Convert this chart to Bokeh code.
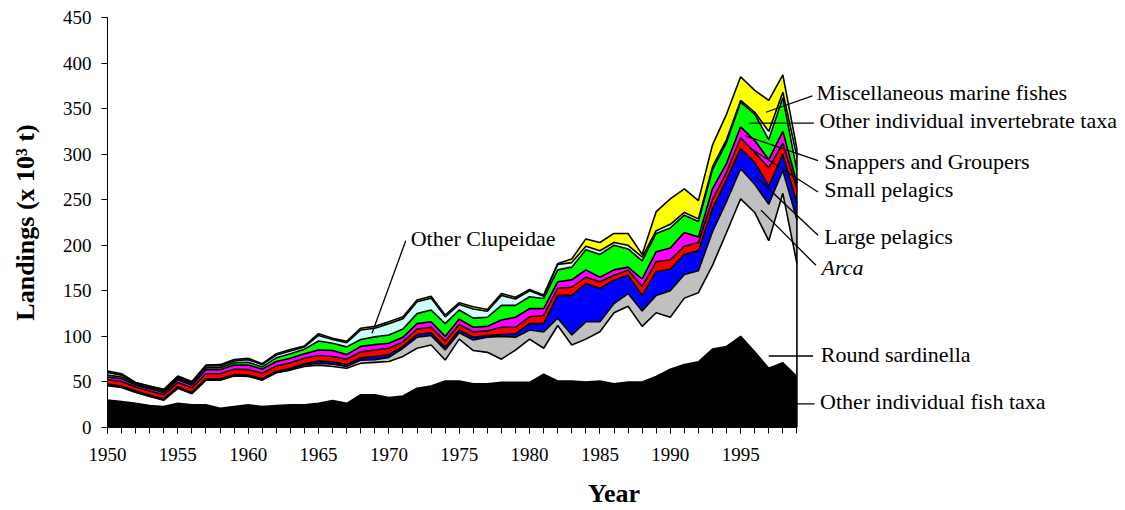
import numpy as np
from bokeh.plotting import figure
from bokeh.models import Range1d, FixedTicker
from bokeh.core.properties import value
from bokeh.embed import file_html
from bokeh.resources import INLINE

# Annual landings by group, thousand tonnes (x 10^3 t), 1950-1999
years = list(range(1950, 2000))

other_fish_taxa = [30, 28.5, 26.5, 24, 23, 26.5, 25, 25, 21, 23,
                   25, 23, 24, 25, 25, 26.5, 29.5, 26.5, 36, 36,
                   33, 34.5, 43, 45.5, 51, 51, 48, 48, 49.5, 49.5,
                   49.5, 58.5, 51, 51, 50, 51, 48, 50, 50, 56,
                   64, 69, 72, 86, 89, 100, 83, 65, 71, 56]
round_sardinella = [16, 15.5, 12, 10, 7, 16.5, 12, 27, 31, 33.5,
                    31, 29, 36, 38, 42, 42, 37.5, 38.5, 34.5, 35.5,
                    39.5, 43.5, 44, 45, 23, 46, 36.5, 34.5, 25.5, 35.5,
                    47.5, 28.5, 61, 39.5, 47, 54, 78, 83, 61, 70,
                    57, 73, 76, 92, 125, 151, 153, 140, 186, 124]
arca = [0.5, 0.5, 0.5, 0.5, 0.5, 0.5, 0.5, 0.5, 0.5, 0.5,
        0.5, 0.5, 0.5, 1, 1.5, 2, 2.5, 2, 3.5, 3,
        4.5, 9, 12, 10.5, 11, 7, 11.5, 16.5, 25, 14,
        10, 18, 8, 11, 19, 11, 10, 14, 17, 19,
        29, 26, 24, 37, 34, 33, 31, 40, 25, 48]
large_pelagics = [1, 1, 1, 1, 1, 1, 1, 1, 1, 1,
                  1, 1, 1, 1, 1.5, 2.5, 2.5, 2, 2.5, 3.5,
                  3, 2, 3, 3, 3, 3, 3, 2, 2, 4,
                  7, 9, 25, 43.5, 42, 36.5, 26, 20, 17, 26,
                  24, 22, 22, 25, 24, 22, 24, 20, 18, 18]
small_pelagics = [5, 5, 4.5, 4.5, 4.5, 5, 5, 5.5, 5.5, 6,
                  6, 6, 6, 6, 6, 6, 6, 6, 6.5, 7,
                  7, 5, 6, 6, 7, 6, 6, 5, 8, 7,
                  7.5, 9, 8, 9, 7, 7.5, 5, 5.5, 10, 11,
                  10, 9, 9, 10, 8, 12, 11, 20, 12, 16]
snappers_groupers = [3, 3, 2, 2.5, 2.5, 3, 3, 4.5, 4.5, 4.5,
                     5, 4.5, 5, 5, 5, 6, 6.5, 5, 6, 6,
                     5.5, 5, 6, 6, 5, 6, 5, 5, 8, 11,
                     9, 7.5, 7, 8, 8, 5, 6, 3.5, 8, 11,
                     13, 15, 6, 12, 10, 12, 13, 9, 13, 6]
other_invertebrates = [2, 2, 1.5, 1.5, 1.5, 1.5, 1.5, 2, 2, 2.5,
                       3, 2.5, 4, 5, 5, 10, 8, 8.5, 7.5, 8.5,
                       9, 9, 11, 13, 14, 10, 10, 10, 16, 13,
                       13, 11, 13, 14, 22, 25, 27, 20, 20, 20,
                       22, 19, 17, 21, 23, 27, 29, 22, 37, 14]
other_clupeidae = [3, 2, 1, 1, 1, 1.5, 1.5, 2, 2, 2,
                   3, 2.5, 3, 3, 2.5, 6, 4, 4.5, 10.5, 9.5,
                   12.5, 11.5, 13, 13, 7.5, 6, 10, 6.5, 11, 7,
                   6.5, 2.5, 6, 5, 4, 4, 3, 4, 4, 3,
                   4, 3, 3, 3, 3, 2, 2, 9, 6, 15]
misc_marine_fishes = [1.5, 1.5, 0.5, 0.5, 1, 1, 1, 1, 1.5, 1.5,
                      1.5, 1, 1.5, 1.5, 1, 2, 1.5, 1.5, 2, 2,
                      2, 2, 2, 2, 2, 2, 2.5, 2, 2, 2,
                      1.5, 1.5, 1, 4, 8, 9, 10, 13, 3, 21,
                      28, 26, 20, 24, 28, 26, 24, 34, 19, 9]

# Stack order, bottom to top
layers = [
    ("Other individual fish taxa", other_fish_taxa, "#000000"),
    ("Round sardinella", round_sardinella, "#ffffff"),
    ("Arca", arca, "#c0c0c0"),
    ("Large pelagics", large_pelagics, "#0000ff"),
    ("Small pelagics", small_pelagics, "#ff0000"),
    ("Snappers and Groupers", snappers_groupers, "#ff00ff"),
    ("Other individual invertebrate taxa", other_invertebrates, "#00ff00"),
    ("Other Clupeidae", other_clupeidae, "#ccffff"),
    ("Miscellaneous marine fishes", misc_marine_fishes, "#ffff00"),
]

FONT = "Liberation Serif"

p = figure(width=1125, height=510, output_backend="svg", toolbar_location=None,
           x_range=Range1d(1950, 2022), y_range=Range1d(0, 450),
           min_border_left=107, min_border_right=5,
           min_border_top=17, min_border_bottom=82)
p.background_fill_color = "white"
p.border_fill_color = "white"
p.outline_line_color = None
p.grid.visible = False

x = np.array(years, dtype=float)
bottom = np.zeros(len(years))
tops = []
for name, vals, color in layers:
    top = bottom + np.array(vals, dtype=float)
    p.varea(x=x, y1=bottom, y2=top, fill_color=color)
    tops.append(top)
    bottom = top

# black borders of the stacked areas
for top in tops:
    p.line(x, top, line_color="black", line_width=1.6)
p.segment(x0=[x[-1]], y0=[0], x1=[x[-1]], y1=[tops[-1][-1]],
          line_color="black", line_width=1.6)

# axes
xa = p.xaxis[0]
xa.bounds = (1950, 1999)
xa.ticker = FixedTicker(ticks=list(range(1950, 1996, 5)), minor_ticks=years)
xa.major_tick_in = 0
xa.major_tick_out = 6
xa.minor_tick_in = 0
xa.minor_tick_out = 6
xa.minor_tick_line_color = "black"
xa.axis_label = "Year"

ya = p.yaxis[0]
ya.ticker = FixedTicker(ticks=list(range(0, 451, 50)))
ya.major_tick_in = 0
ya.major_tick_out = 6
ya.minor_tick_line_color = None
ya.axis_label = "Landings (x 10\u00b3 t)"

for ax in (xa, ya):
    ax.axis_line_color = "black"
    ax.major_tick_line_color = "black"
    ax.major_label_text_font = FONT
    ax.major_label_text_font_size = "19px"
    ax.major_label_text_color = "black"
    ax.axis_label_text_font = FONT
    ax.axis_label_text_font_size = "26px"
    ax.axis_label_text_font_style = "bold"
    ax.axis_label_text_color = "black"
xa.major_label_standoff = 14
xa.axis_label_standoff = 15
ya.major_label_standoff = 10
ya.axis_label_standoff = 20

# series labels with leader lines (year, landings)
labels = [
    ("Other Clupeidae", 1971.55, 207, (1971.2, 205), (1968.8, 103.5), "normal"),
    ("Miscellaneous marine fishes", 2000.4, 367.5, (2000.1, 364), (1996.8, 346), "normal"),
    ("Other individual invertebrate taxa", 2000.6, 336.5, (2000.2, 334), (1995.6, 334), "normal"),
    ("Snappers and Groupers", 2000.95, 292, (2000.5, 293), (1995.25, 320.5), "normal"),
    ("Small pelagics", 2000.95, 261, (2000.5, 258.5), (1995.6, 307.5), "normal"),
    ("Large pelagics", 2000.95, 209.5, (2000.5, 211), (1996.1, 275), "normal"),
    ("Arca", 2000.75, 176, (2000.35, 178), (1996.45, 238.5), "italic"),
    ("Round sardinella", 2000.7, 80, (2000.15, 78.5), (1997.0, 78.5), "normal"),
    ("Other individual fish taxa", 2000.65, 28, (2000.25, 26), (1999.0, 26), "normal"),
]
for text, tx, ty, (ax0, ay0), (ax1, ay1), style in labels:
    p.segment(x0=[ax0], y0=[ay0], x1=[ax1], y1=[ay1], line_color="black", line_width=1.3)
    p.text(x=[tx], y=[ty], text=[text], text_font=value(FONT), text_font_size="22px",
           text_font_style=style, text_color="black",
           text_align="left", text_baseline="middle")

open("out.html", "w").write(file_html(p, INLINE))
